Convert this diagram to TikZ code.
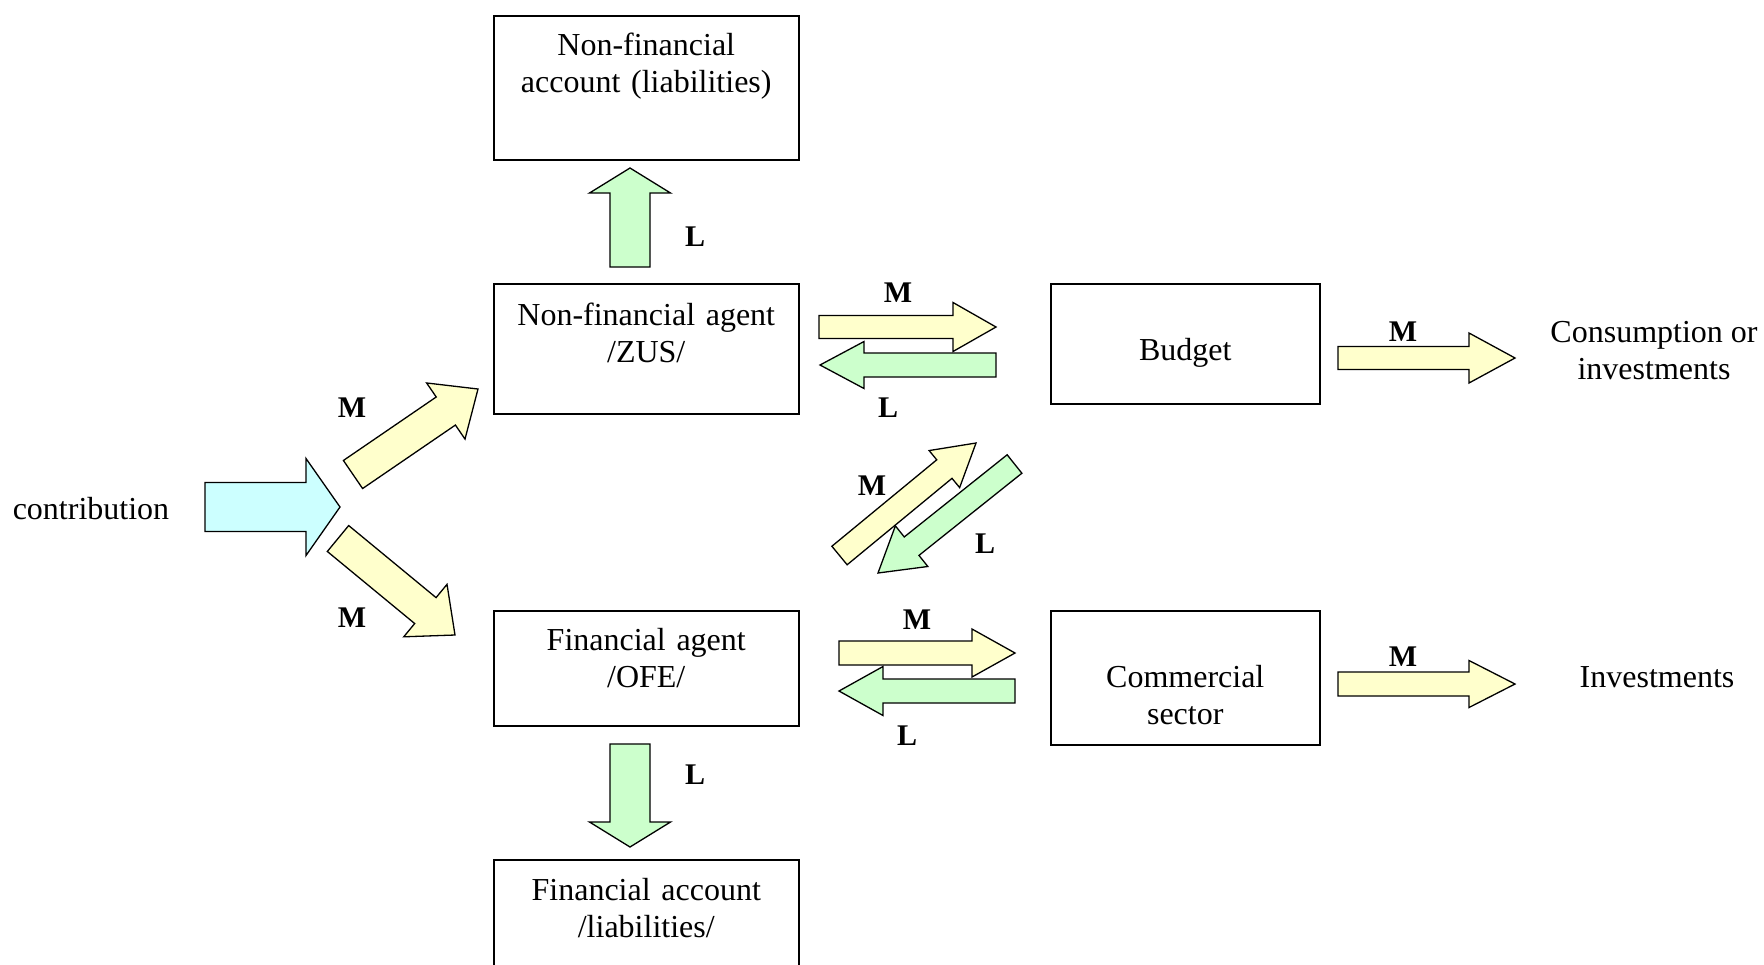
\documentclass[tikz,border=0pt]{standalone}
\usepackage{fontspec}
\setmainfont{Liberation Serif}
\usetikzlibrary{calc}
\usetikzlibrary{positioning}

\definecolor{moneyfill}{HTML}{FFFFCC}
\definecolor{liabfill}{HTML}{CCFFCC}
\definecolor{contribfill}{HTML}{CCFFFF}

\tikzset{
  box/.style={draw, line width=0.75pt, inner sep=0pt, text width=#1, minimum width=#1, align=center, anchor=north west},
  plain/.style={inner sep=0pt, align=center},
  flowlabel/.style={inner sep=0pt, font=\fontsize{15}{17}\selectfont\bfseries},
  arrowline/.style={draw=black, line width=0.65pt, line join=miter},
}

% block arrow: fill, tail, tip, shaft half width, head half width, head length
\newcommand{\blockarrow}[6]{%
  \coordinate (ba-base) at ($(#3)!#6!(#2)$);
  \filldraw[arrowline, fill=#1]
    ($(#2)!#4!90:(#3)$) -- ($(ba-base)!#4!90:(#3)$) -- ($(ba-base)!#5!90:(#3)$) --
    (#3) --
    ($(ba-base)!#5!-90:(#3)$) -- ($(ba-base)!#4!-90:(#3)$) -- ($(#2)!#4!-90:(#3)$) -- cycle;
}

\begin{document}
\begin{tikzpicture}[x=0.5pt, y=-0.5pt, font=\fontsize{16}{18.5}\selectfont]
    \useasboundingbox (0,0) rectangle (1764,964);
    \clip (0,0) rectangle (1764,964);

    % boxes
    \node[box=152.5pt, text height=20pt, text depth=52pt] (nfacc) at (493,15) {Non-financial\\account (liabilities)};
    \node[box=152.5pt, text height=21pt, text depth=44pt] (zus) at (493,283) {Non-financial agent\\/ZUS/};
    \node[box=152.5pt, text height=19.8pt, text depth=37.7pt] (ofe) at (493,610) {Financial agent\\/OFE/};
    \node[box=152.5pt, text height=20.5pt, text depth=50pt] (finacc) at (493,859) {Financial account\\/liabilities/};
    \node[box=134.5pt, text height=38.5pt, text depth=21.5pt] (budget) at (1050,283) {Budget};
    \node[box=134.5pt, text height=38.5pt, text depth=28.5pt] (comm) at (1050,610) {Commercial\\sector};

    % free texts
    \node[plain, anchor=base] (contrib) at (91,519) {contribution};
    \node[plain] (cons) at (1654,351) {Consumption or\\investments};
    \node[plain, anchor=base] (inv) at (1657,687) {Investments};

    % arrow ends
    \coordinate (contrib-tail) at (205,507);   \coordinate (contrib-tip) at (340,507);
    \coordinate (zusin-tail) at (353,474.5);   \coordinate (zusin-tip) at (478,389);
    \coordinate (ofein-tail) at (338,538.5);   \coordinate (ofein-tip) at (455,635);
    \coordinate (zb-tail) at (819,327);        \coordinate (zb-tip) at (996,327);
    \coordinate (bz-tail) at (996,365);        \coordinate (bz-tip) at (820,365);
    \coordinate (ob-tail) at (839.5,555.5);    \coordinate (ob-tip) at (976,443);
    \coordinate (bo-tail) at (1014.5,464);     \coordinate (bo-tip) at (878,573);
    \coordinate (oc-tail) at (839,653);        \coordinate (oc-tip) at (1015,653);
    \coordinate (co-tail) at (1015,691);       \coordinate (co-tip) at (839,691);
    \coordinate (bcons-tail) at (1338,358);    \coordinate (bcons-tip) at (1515,358);
    \coordinate (cinv-tail) at (1338,684);     \coordinate (cinv-tip) at (1515,684);
    \coordinate (zup-tail) at (630,267);       \coordinate (zup-tip) at (630,168);
    \coordinate (odown-tail) at (630,744);     \coordinate (odown-tip) at (630,847);

    % block arrows
    \blockarrow{contribfill}{contrib-tail}{contrib-tip}{12.25pt}{24.25pt}{17pt}
    \blockarrow{moneyfill}{zusin-tail}{zusin-tip}{8.5pt}{17pt}{19.5pt}
    \blockarrow{moneyfill}{ofein-tail}{ofein-tip}{8.4pt}{17pt}{19.2pt}
    \blockarrow{moneyfill}{zb-tail}{zb-tip}{5.75pt}{12.25pt}{21.5pt}
    \blockarrow{liabfill}{bz-tail}{bz-tip}{6pt}{11.75pt}{22pt}
    \blockarrow{moneyfill}{ob-tail}{ob-tip}{6pt}{12pt}{20.5pt}
    \blockarrow{liabfill}{bo-tail}{bo-tip}{5.9pt}{13pt}{21.5pt}
    \blockarrow{moneyfill}{oc-tail}{oc-tip}{6pt}{12pt}{21.5pt}
    \blockarrow{liabfill}{co-tail}{co-tip}{6pt}{12.25pt}{22pt}
    \blockarrow{moneyfill}{bcons-tail}{bcons-tip}{5.75pt}{12.5pt}{23pt}
    \blockarrow{moneyfill}{cinv-tail}{cinv-tip}{6pt}{11.75pt}{23pt}
    \blockarrow{liabfill}{zup-tail}{zup-tip}{10pt}{20.25pt}{12.5pt}
    \blockarrow{liabfill}{odown-tail}{odown-tip}{10pt}{20.25pt}{12.5pt}

    % flow labels
    \node[flowlabel] (m-zusin) at (352,408) {M};
    \node[flowlabel] (m-ofein) at (352,618) {M};
    \node[flowlabel] (l-zup) at (695,237) {L};
    \node[flowlabel] (l-odown) at (695,775) {L};
    \node[flowlabel] (m-zb) at (898,293) {M};
    \node[flowlabel] (l-bz) at (888,408) {L};
    \node[flowlabel] (m-ob) at (872,486) {M};
    \node[flowlabel] (l-bo) at (985,544) {L};
    \node[flowlabel] (m-oc) at (917,620) {M};
    \node[flowlabel] (l-co) at (907,736) {L};
    \node[flowlabel] (m-bcons) at (1403,332) {M};
    \node[flowlabel] (m-cinv) at (1403,657) {M};
\end{tikzpicture}
\end{document}
